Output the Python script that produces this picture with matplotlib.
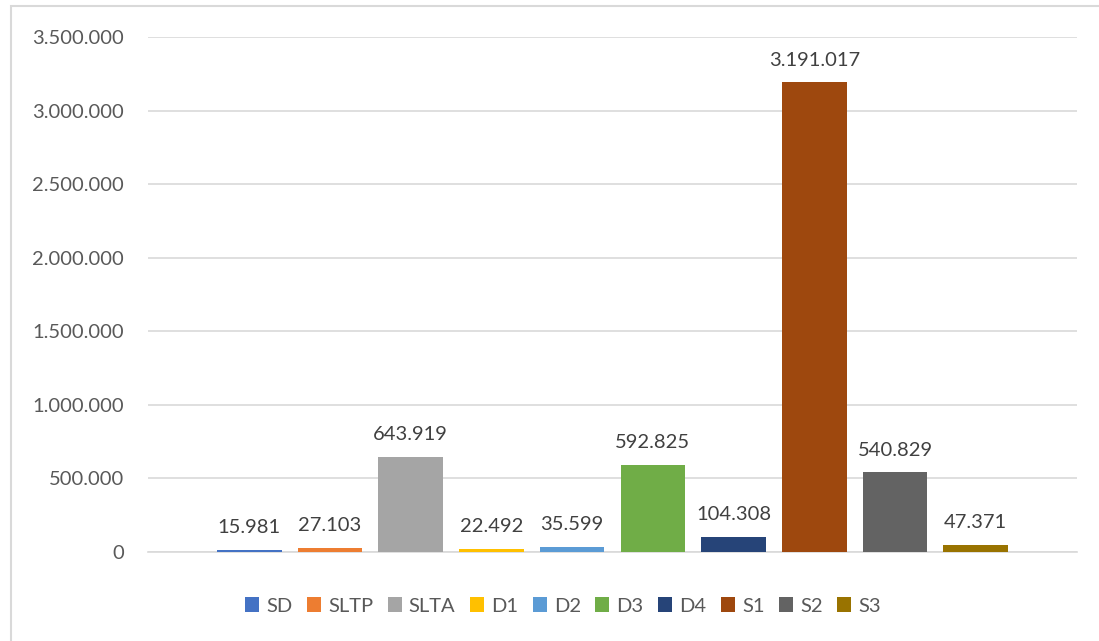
import matplotlib
matplotlib.use("Agg")
import matplotlib.pyplot as plt
from matplotlib.patches import Rectangle, Patch

series = ["SD", "SLTP", "SLTA", "D1", "D2", "D3", "D4", "S1", "S2", "S3"]
values = [15981, 27103, 643919, 22492, 35599, 592825, 104308, 3191017, 540829, 47371]
colors = ["#4472C4", "#ED7D31", "#A5A5A5", "#FFC000", "#5B9BD5",
          "#70AD47", "#264478", "#9E480E", "#636363", "#997300"]
yticks = [0, 500000, 1000000, 1500000, 2000000, 2500000, 3000000, 3500000]

def fmt(v):
    return f"{v:,.0f}".replace(",", ".")

plt.rcParams['font.family'] = ['Lato', 'DejaVu Sans']
W, H = 1099, 641
fig = plt.figure(figsize=(W/100, H/100), dpi=100)
fig.patches.append(Rectangle((11/W, -0.1), 1.2, 1 - 6/H + 0.1, transform=fig.transFigure,
                             fill=False, edgecolor="#D9D9D9", linewidth=1.5))

ax = fig.add_axes([148/W, 1 - 552/H, (1077-148)/W, (552-37)/H])
x = list(range(len(series)))
bars = ax.bar(x, values, width=0.8, color=colors, zorder=3)
for xi, v in zip(x, values):
    ax.annotate(fmt(v), (xi, v), xytext=(0, 10), textcoords="offset points",
                ha="center", va="bottom", fontsize=14.5, color="#404040")
ax.set_ylim(0, 3500000)
ax.set_xlim(-1.255, 10.255)
ax.set_yticks(yticks)
ax.set_yticklabels([fmt(t) for t in yticks], fontsize=14.5, color="#595959")
ax.tick_params(axis="y", length=0, pad=17.5)
ax.set_xticks([])
ax.grid(axis="y", color="#D9D9D9", linewidth=1.2, zorder=0)
for s in ["top", "right", "left"]:
    ax.spines[s].set_visible(False)
ax.spines["bottom"].set_color("#D9D9D9")
ax.spines["bottom"].set_linewidth(1.2)

handles = [Patch(facecolor=c, label=s) for c, s in zip(colors, series)]
fig.legend(handles=handles, loc="center", bbox_to_anchor=(563/W, 1 - 606/H), ncol=10,
           frameon=False, fontsize=14.5, handlelength=0.7, handleheight=0.7,
           handletextpad=0.35, columnspacing=0.72, labelcolor="#595959")

fig.savefig("out.png", dpi=100)
